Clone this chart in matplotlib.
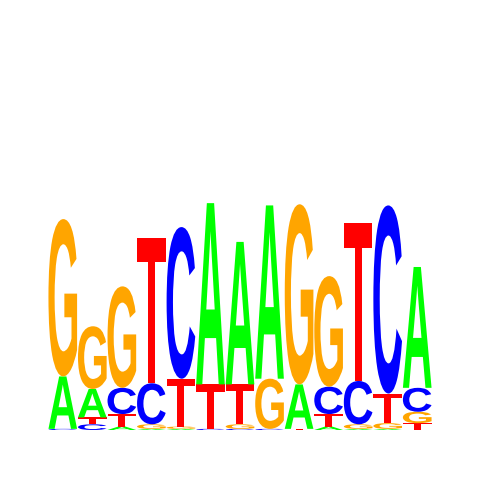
import matplotlib
matplotlib.use("Agg")
import matplotlib.pyplot as plt
from matplotlib.textpath import TextPath
from matplotlib.patches import PathPatch
from matplotlib.font_manager import FontProperties
from matplotlib.transforms import Affine2D

positions = list(range(1, 14))
# information content (bits) per letter at each position
height_A = [0.46, 0.25, 0.03, 0.01, 0.01, 1.59, 1.25, 1.52, 0.39, 0.03, 0.01, 0.01, 1.06]
height_C = [0.01, 0.05, 0.23, 0.36, 1.33, 0.01, 0.01, 0.01, 0.00, 0.24, 0.38, 1.65, 0.21]
height_G = [1.38, 0.55, 0.89, 0.04, 0.02, 0.00, 0.04, 0.44, 1.58, 0.97, 0.04, 0.05, 0.10]
height_T = [0.00, 0.06, 0.11, 1.27, 0.42, 0.39, 0.35, 0.00, 0.01, 0.11, 1.39, 0.26, 0.06]

colors = {"A": "#00ff00", "C": "#0000ff", "G": "#ffa500", "T": "#ff0000"}
fp = FontProperties(family="Liberation Sans", weight="bold")

fig = plt.figure(figsize=(4.8, 4.8), dpi=100)
ax = fig.add_axes([48 / 480, 50 / 480, 384 / 480, 228 / 480])
ax.set_xlim(0.5, 13.5)
ax.set_ylim(0, 2)
ax.axis("off")

glyphs = {}
for L in "ACGT":
    tp = TextPath((0, 0), L, size=1, prop=fp)
    ext = tp.get_extents()
    glyphs[L] = (tp, ext)

for i, pos in enumerate(positions):
    col = {"A": height_A[i], "C": height_C[i], "G": height_G[i], "T": height_T[i]}
    order = sorted(col.items(), key=lambda kv: kv[1])
    y = 0.0
    for L, h in order:
        if h <= 0:
            continue
        tp, ext = glyphs[L]
        w = 0.97
        tr = (Affine2D()
              .translate(-ext.x0, -ext.y0)
              .scale(w / ext.width, h / ext.height)
              .translate(pos - w / 2, y))
        path = tr.transform_path(tp)
        ax.add_patch(PathPatch(path, facecolor=colors[L], edgecolor="none", lw=0))
        y += h

fig.savefig("out.png", dpi=100)
